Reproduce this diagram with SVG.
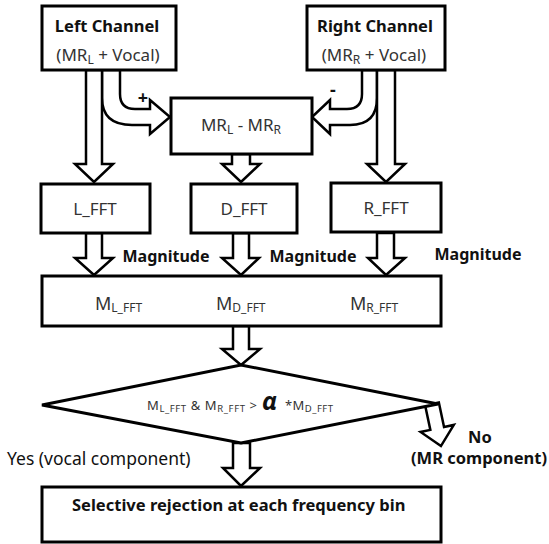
<svg xmlns="http://www.w3.org/2000/svg" width="549" height="544" viewBox="0 0 549 544">
<style>
.box{fill:#fff;stroke:#000;stroke-width:3}
.arr{fill:#fff;stroke:#000;stroke-width:2.5;stroke-linejoin:miter}
text{font-family:"Noto Sans","Open Sans","Liberation Sans",sans-serif;fill:#111}
.b{font-weight:bold}
.r{fill:#333}
.c{text-anchor:middle}
</style>
<rect width="549" height="544" fill="#fff"/>
<g id="connectors">
  <path class="arr" d="M120 70 L120 94 Q120 109 135 109 L150 109 L150 100 L170 117 L150 134 L150 125 L132 125 Q102 125 102 98 L102 70 Z"/>
  <path class="arr" d="M86 70 L102 70 L102 164 L113 164 L94 182 L75 164 L86 164 Z"/>
  <path class="arr" d="M362 70 L362 94 Q362 109 347 109 L330 109 L330 100 L312 117 L330 134 L330 125 L350 125 Q377 125 377 98 L377 70 Z"/>
  <path class="arr" d="M377 70 L395 70 L395 164 L405 164 L386 182 L367 164 L377 164 Z"/>
  <path class="arr" d="M232 154 L250 154 L250 164 L260 164 L241 182 L222 164 L232 164 Z"/>
  <path class="arr" d="M86 233 L102 233 L102 258 L113 258 L94 275 L75 258 L86 258 Z"/>
  <path class="arr" d="M233 233 L249 233 L249 258 L259 258 L241 275 L222 258 L233 258 Z"/>
  <path class="arr" d="M377 233 L394 233 L394 258 L405 258 L386 275 L368 258 L377 258 Z"/>
  <path class="arr" d="M233 326 L249 326 L249 349 L260 349 L241 365 L222 349 L233 349 Z"/>
  <path class="arr" d="M233 443 L250 443 L250 468 L260 468 L241 486 L223 468 L233 468 Z"/>
  <path class="arr" transform="translate(432 404) rotate(-12)" d="M-7 0 L7 0 L7 25 L17 25 L0 43 L-17 25 L-7 25 Z"/>
</g>
<g id="left-channel">
  <rect class="box" x="42" y="6" width="134" height="64"/>
  <text class="b c" font-size="16.5" x="107" y="32">Left Channel</text>
  <text class="r c" font-size="17" x="108" y="61">(MR<tspan font-size="12" dy="3">L</tspan><tspan dy="-3"> + Vocal)</tspan></text>
</g>
<g id="right-channel">
  <rect class="box" x="307" y="6" width="138" height="64"/>
  <text class="b c" font-size="16.5" x="375" y="32">Right Channel</text>
  <text class="r c" font-size="17" x="374" y="61">(MR<tspan font-size="12" dy="3">R</tspan><tspan dy="-3"> + Vocal)</tspan></text>
</g>
<g id="plus-minus">
  <text class="b" x="143" y="104" font-size="18" text-anchor="middle">+</text>
  <text class="b" x="333" y="96" font-size="18" text-anchor="middle">-</text>
</g>
<g id="difference">
  <rect class="box" x="171" y="98" width="141" height="56"/>
  <text class="r c" font-size="17" x="241" y="131">MR<tspan font-size="12" dy="3">L</tspan><tspan dy="-3"> - MR</tspan><tspan font-size="12" dy="3">R</tspan></text>
</g>
<g id="l-fft">
  <rect class="box" x="41" y="184" width="109" height="49"/>
  <text class="r c" font-size="17" x="95" y="215">L_FFT</text>
</g>
<g id="d-fft">
  <rect class="box" x="191" y="184" width="106" height="49"/>
  <text class="r c" font-size="17" x="244" y="215">D_FFT</text>
</g>
<g id="r-fft">
  <rect class="box" x="331" y="183" width="110" height="49"/>
  <text class="r c" font-size="17" x="386" y="214">R_FFT</text>
</g>
<g id="magnitude-labels">
  <text class="b c" font-size="16" x="166" y="262">Magnitude</text>
  <text class="b c" font-size="16" x="313" y="262">Magnitude</text>
  <text class="b c" font-size="16" x="478" y="260">Magnitude</text>
</g>
<g id="magnitudes">
  <rect class="box" x="42" y="276" width="399" height="50"/>
  <text class="r" x="95" y="310" font-size="18">M<tspan font-size="12" dy="2">L_FFT</tspan></text>
  <text class="r" x="216" y="310" font-size="18">M<tspan font-size="12" dy="2">D_FFT</tspan></text>
  <text class="r" x="350" y="310" font-size="18">M<tspan font-size="12" dy="2">R_FFT</tspan></text>
</g>
<g id="decision">
  <polygon class="box" points="42,405 241,365 438,404 241,443"/>
  <text class="r" x="147" y="410" font-size="13" textLength="110" lengthAdjust="spacing">M<tspan font-size="9.5" dy="2">L_FFT</tspan><tspan dy="-2"> &amp; M</tspan><tspan font-size="9.5" dy="2">R_FFT</tspan><tspan dy="-2"> &gt;</tspan></text>
  <text x="262" y="410" font-family="Liberation Serif,serif" font-weight="bold" font-style="italic" font-size="25" fill="#000">α</text>
  <text class="r" x="285" y="410" font-size="13" textLength="48" lengthAdjust="spacing">*M<tspan font-size="9.5" dy="2">D_FFT</tspan></text>
</g>
<g id="branch-labels">
  <text font-size="17.5" x="7" y="465">Yes (vocal component)</text>
  <text class="b" font-size="16.5" x="468" y="443">No</text>
  <text class="b" font-size="16.5" x="411" y="464">(MR component)</text>
</g>
<g id="rejection">
  <rect class="box" x="42" y="487" width="399" height="55"/>
  <text class="b" font-size="16.5" x="72" y="511">Selective rejection at each frequency bin</text>
</g>
</svg>
